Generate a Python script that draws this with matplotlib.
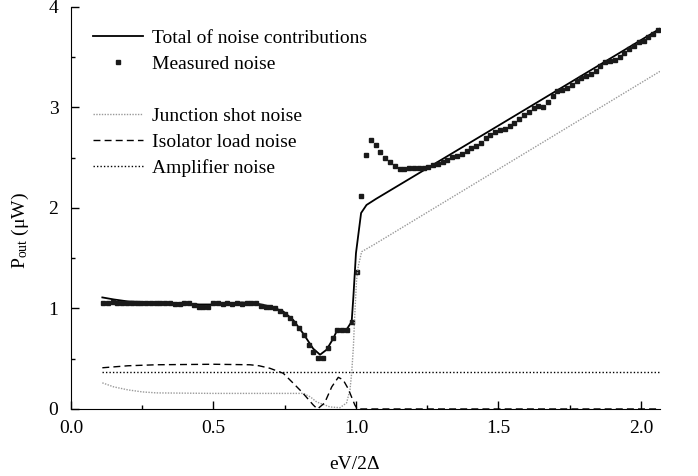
import matplotlib
matplotlib.use("Agg")
import matplotlib.pyplot as plt
from matplotlib.lines import Line2D
from matplotlib.ticker import MultipleLocator

plt.rcParams['font.family'] = ['Liberation Serif', 'DejaVu Serif']
plt.rcParams['mathtext.fontset'] = 'custom'
plt.rcParams['mathtext.rm'] = 'Liberation Serif'
plt.rcParams['mathtext.it'] = 'Liberation Serif:italic'

# Measured noise (eV/2Delta, P_out in uW)
meas_x = [0.113, 0.130, 0.147, 0.163, 0.180, 0.197, 0.214, 0.230, 0.247, 0.264,
          0.281, 0.298, 0.314, 0.331, 0.348, 0.365, 0.381, 0.398, 0.415, 0.432,
          0.449, 0.465, 0.482, 0.499, 0.516, 0.533, 0.549, 0.566, 0.583, 0.600,
          0.616, 0.633, 0.650, 0.667, 0.684, 0.700, 0.717, 0.734, 0.751, 0.767,
          0.784, 0.801, 0.818, 0.835, 0.851, 0.868, 0.885, 0.902, 0.918, 0.935,
          0.952, 0.969, 0.986, 1.002, 1.019, 1.036, 1.053, 1.069, 1.086, 1.103,
          1.120, 1.137, 1.153, 1.170, 1.187, 1.204, 1.220, 1.237, 1.254, 1.271,
          1.288, 1.304, 1.321, 1.338, 1.355, 1.372, 1.388, 1.405, 1.422, 1.439,
          1.455, 1.472, 1.489, 1.506, 1.523, 1.539, 1.556, 1.573, 1.590, 1.607,
          1.623, 1.640, 1.657, 1.674, 1.690, 1.707, 1.724, 1.741, 1.758, 1.774,
          1.791, 1.808, 1.825, 1.842, 1.858, 1.875, 1.892, 1.909, 1.925, 1.942,
          1.959, 1.976, 1.993, 2.009, 2.026, 2.043, 2.060]
meas_y = [1.05, 1.05, 1.06, 1.05, 1.05, 1.05, 1.05, 1.05, 1.05, 1.05,
          1.05, 1.05, 1.05, 1.05, 1.05, 1.04, 1.04, 1.05, 1.05, 1.03,
          1.01, 1.01, 1.01, 1.05, 1.05, 1.04, 1.05, 1.04, 1.05, 1.04,
          1.05, 1.05, 1.05, 1.02, 1.01, 1.01, 1.00, 0.97, 0.95, 0.91,
          0.86, 0.81, 0.74, 0.64, 0.57, 0.51, 0.51, 0.61, 0.71, 0.79,
          0.79, 0.79, 0.87, 1.36, 2.12, 2.53, 2.68, 2.63, 2.56, 2.50,
          2.46, 2.42, 2.39, 2.39, 2.40, 2.40, 2.40, 2.40, 2.41, 2.43,
          2.44, 2.46, 2.48, 2.51, 2.52, 2.54, 2.57, 2.60, 2.62, 2.65,
          2.70, 2.73, 2.76, 2.78, 2.79, 2.82, 2.85, 2.89, 2.93, 2.96,
          2.99, 3.01, 3.00, 3.05, 3.11, 3.16, 3.17, 3.19, 3.22, 3.26,
          3.29, 3.31, 3.33, 3.36, 3.41, 3.45, 3.46, 3.47, 3.50, 3.54,
          3.58, 3.61, 3.65, 3.66, 3.70, 3.73, 3.77]

# Total of noise contributions
total_x = [0.11, 0.15, 0.20, 0.30, 0.40, 0.45, 0.50, 0.55, 0.60, 0.65, 0.70,
           0.745, 0.78, 0.815, 0.85, 0.874, 0.897, 0.92, 0.935, 0.967, 0.985,
           0.991, 1.000, 1.018, 1.037, 1.07, 1.50, 2.07]
total_y = [1.11, 1.09, 1.07, 1.06, 1.05, 1.04, 1.04, 1.05, 1.06, 1.05, 1.02,
           0.97, 0.885, 0.75, 0.60, 0.54, 0.59, 0.70, 0.79, 0.79, 0.87,
           1.12, 1.55, 1.95, 2.03, 2.09, 2.82, 3.79]

# Junction shot noise
shot_x = [0.11, 0.15, 0.20, 0.25, 0.30, 0.50, 0.815, 0.84, 0.862, 0.909, 0.944,
          0.967, 0.979, 0.985, 0.991, 0.996, 1.002, 1.008, 1.02, 1.06, 2.067]
shot_y = [0.26, 0.22, 0.19, 0.17, 0.16, 0.155, 0.155, 0.12, 0.07, 0.02, 0.013,
          0.06, 0.19, 0.36, 0.62, 0.95, 1.28, 1.42, 1.565, 1.63, 3.36]

# Isolator load noise
iso_x = [0.11, 0.20, 0.30, 0.50, 0.628, 0.66, 0.698, 0.745, 0.78, 0.81, 0.85,
         0.865, 0.89, 0.915, 0.938, 0.955, 0.973, 0.996, 1.005, 2.067]
iso_y = [0.41, 0.43, 0.44, 0.445, 0.44, 0.43, 0.405, 0.355, 0.256, 0.17, 0.04,
         0.0, 0.06, 0.22, 0.315, 0.29, 0.20, 0.04, 0.0, 0.0]

# Amplifier noise
amp_x = [0.11, 2.067]
amp_y = [0.37, 0.37]

fig = plt.figure(figsize=(6.98, 4.76), dpi=100)
ax = fig.add_axes([0.1017, 0.1408, 0.8439, 0.8445])

ax.plot(total_x, total_y, color='black', lw=1.3, label='Total of noise contributions')
ax.plot(meas_x, meas_y, linestyle='none', marker='s', markersize=3.4,
        color='#1a1a1a', label='Measured noise')
ax.plot(shot_x, shot_y, color='#999999', lw=1.0, linestyle=(0, (1, 1)),
        label='Junction shot noise')
ax.plot(iso_x, iso_y, color='black', lw=1.0, linestyle=(0, (5, 3)),
        label='Isolator load noise')
ax.plot(amp_x, amp_y, color='black', lw=1.0, linestyle=(0, (1, 1.5)),
        label='Amplifier noise')

ax.set_xlim(0, 2.067)
ax.set_ylim(0, 4)
ax.xaxis.set_major_locator(MultipleLocator(0.5))
ax.xaxis.set_minor_locator(MultipleLocator(0.25))
ax.yaxis.set_major_locator(MultipleLocator(1))
ax.yaxis.set_minor_locator(MultipleLocator(0.5))
ax.xaxis.set_major_formatter(matplotlib.ticker.FormatStrFormatter('%.1f'))
ax.tick_params(which='both', direction='in', labelsize=14, width=1)
ax.tick_params(which='major', length=6)
ax.tick_params(which='minor', length=3)
ax.tick_params(axis='x', pad=8)
ax.tick_params(axis='y', pad=9)
ax.spines['top'].set_visible(False)
ax.spines['right'].set_visible(False)

ax.set_xlabel('eV/2Δ', fontsize=14)
ax.set_ylabel(r'P$_{\rm out}$ (μW)', fontsize=14)
ax.xaxis.set_label_coords(0.482, -0.116)
ax.yaxis.set_label_coords(-0.068, 0.443)

handles, labels = ax.get_legend_handles_labels()
blank = Line2D([], [], color='none')
handles = handles[:2] + [blank] + handles[2:]
labels = labels[:2] + [' '] + labels[2:]
ax.legend(handles, labels, loc='upper left', bbox_to_anchor=(0.037, 0.945),
          frameon=False, fontsize=14, handlelength=2.6, handletextpad=0.45,
          labelspacing=0.43, borderpad=0, borderaxespad=0, numpoints=1)

fig.savefig('out.png', dpi=100)
